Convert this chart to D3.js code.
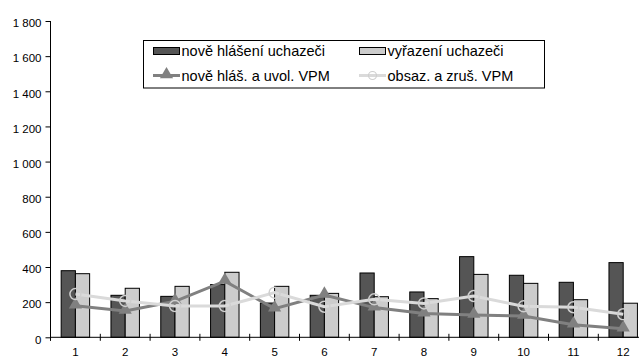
<!DOCTYPE html>
<html><head><meta charset="utf-8">
<script src="https://cdn.jsdelivr.net/npm/d3@7"></script>
<style>body{margin:0;background:#fff}svg{display:block;font-family:"Liberation Sans",Arial,sans-serif}</style>
</head><body><svg id="c" width="639" height="357"></svg>
<script>
const categories = ["1","2","3","4","5","6","7","8","9","10","11","12"];
const noveHlaseni = [379, 239, 233, 300, 195, 239, 366, 258, 459, 353, 313, 425];
const vyrazeni = [362, 279, 290, 370, 290, 250, 231, 220, 358, 307, 214, 194];
const noveVPM = [180, 150, 205, 320, 163, 241, 169, 135, 127, 121, 72, 49];
const obsazVPM = [246, 207, 178, 178, 254, 174, 216, 193, 235, 176, 171, 131];
const yTicks = [0, 200, 400, 600, 800, 1000, 1200, 1400, 1600, 1800];
const seriesNames = ["nově hlášení uchazeči", "vyřazení uchazeči", "nově hláš. a uvol. VPM", "obsaz. a zruš. VPM"];

const svg = d3.select("#c");
const x = d3.scaleBand().domain(categories).range([50.5, 648.1]).padding(0);
const y = d3.scaleLinear().domain([0, 1800]).range([337.3, 21]);
const bw = x.bandwidth() / 3.5;
const fmt = v => d3.format(",")(v).replace(/,/g, " ");

const darkC = "#555555", lightC = "#cccccc", triC = "#808080", circC = "#dadada";

// y axis
const yAxis = d3.axisLeft(y).tickValues(yTicks).tickSize(5).tickFormat(fmt);
const gy = svg.append("g").attr("transform", "translate(50.5,0)").call(yAxis);
gy.select(".domain").attr("stroke", "#000").attr("d", "M0,21V340.5");
gy.selectAll(".tick line").attr("stroke", "#000");
gy.selectAll(".tick text").attr("font-size", "11.5px").attr("fill", "#000").attr("x", -9).attr("dy", "0.5em");

// bars
const gb = svg.append("g");
gb.selectAll(".d").data(categories).join("rect")
  .attr("x", d => x(d) + 0.75 * bw).attr("width", bw)
  .attr("y", (d, i) => y(noveHlaseni[i])).attr("height", (d, i) => y(0) - y(noveHlaseni[i]))
  .attr("fill", darkC).attr("stroke", "#000").attr("stroke-width", 1);
gb.selectAll(".l").data(categories).join("rect")
  .attr("x", d => x(d) + 1.75 * bw).attr("width", bw)
  .attr("y", (d, i) => y(vyrazeni[i])).attr("height", (d, i) => y(0) - y(vyrazeni[i]))
  .attr("fill", lightC).attr("stroke", "#000").attr("stroke-width", 1);

// x axis
const gx = svg.append("g").attr("transform", `translate(0,${y(0)})`);
gx.append("line").attr("x1", 50.5).attr("x2", 648).attr("stroke", "#000");
const bounds = categories.map(d => x(d)).concat([x.range()[1]]);
gx.selectAll(".t").data(bounds).join("line")
  .attr("x1", d => d).attr("x2", d => d).attr("y1", -3.5).attr("y2", 3.5).attr("stroke", "#000");
gx.selectAll(".lab").data(categories).join("text")
  .attr("x", d => x(d) + x.bandwidth() / 2).attr("y", 356 - y(0))
  .attr("text-anchor", "middle").attr("font-size", "11.5px").text(d => d);

// lines
const cx = d => x(d) + x.bandwidth() / 2;
const line = vals => d3.line().x((d, i) => cx(categories[i])).y(d => y(d))(vals);
const tri = d3.symbol().type(d3.symbolTriangle).size(75);

svg.append("path").attr("d", line(noveVPM)).attr("fill", "none").attr("stroke", triC).attr("stroke-width", 3);
svg.selectAll(".tri").data(noveVPM).join("path")
  .attr("d", tri).attr("transform", (d, i) => `translate(${cx(categories[i])},${y(d) - 1})`)
  .attr("fill", triC);

svg.append("path").attr("d", line(obsazVPM)).attr("fill", "none").attr("stroke", circC).attr("stroke-width", 3);
svg.selectAll(".circ").data(obsazVPM).join("circle")
  .attr("cx", (d, i) => cx(categories[i])).attr("cy", d => y(d)).attr("r", 5.5)
  .attr("fill", "none").attr("stroke", "#cfcfcf").attr("stroke-width", 1.5);

// legend
const lg = svg.append("g");
lg.append("rect").attr("x", 143.5).attr("y", 40.5).attr("width", 401).attr("height", 47.5)
  .attr("fill", "#fff").attr("stroke", "#000");
const items = [
  {n: seriesNames[0], t: "bar", c: darkC, x: 153, y: 51},
  {n: seriesNames[1], t: "bar", c: lightC, x: 359, y: 51},
  {n: seriesNames[2], t: "tri", c: triC, x: 153, y: 75.5},
  {n: seriesNames[3], t: "circ", c: circC, x: 359, y: 75.5}
];
items.forEach(it => {
  if (it.t === "bar") {
    lg.append("rect").attr("x", it.x + 0.5).attr("y", it.y - 3.5).attr("width", 26).attr("height", 7)
      .attr("fill", it.c).attr("stroke", "#000");
  } else {
    lg.append("line").attr("x1", it.x).attr("x2", it.x + 27).attr("y1", it.y).attr("y2", it.y)
      .attr("stroke", it.c).attr("stroke-width", 3);
    if (it.t === "tri") lg.append("path").attr("d", tri).attr("transform", `translate(${it.x + 13.5},${it.y - 1})`).attr("fill", it.c);
    else lg.append("circle").attr("cx", it.x + 13.5).attr("cy", it.y).attr("r", 4).attr("fill", "none").attr("stroke", "#cfcfcf").attr("stroke-width", 1.2);
  }
  lg.append("text").attr("x", it.x + 28.5).attr("y", it.y).attr("dy", "0.36em")
    .attr("font-size", "14.5px").text(it.n);
});
</script></body></html>
